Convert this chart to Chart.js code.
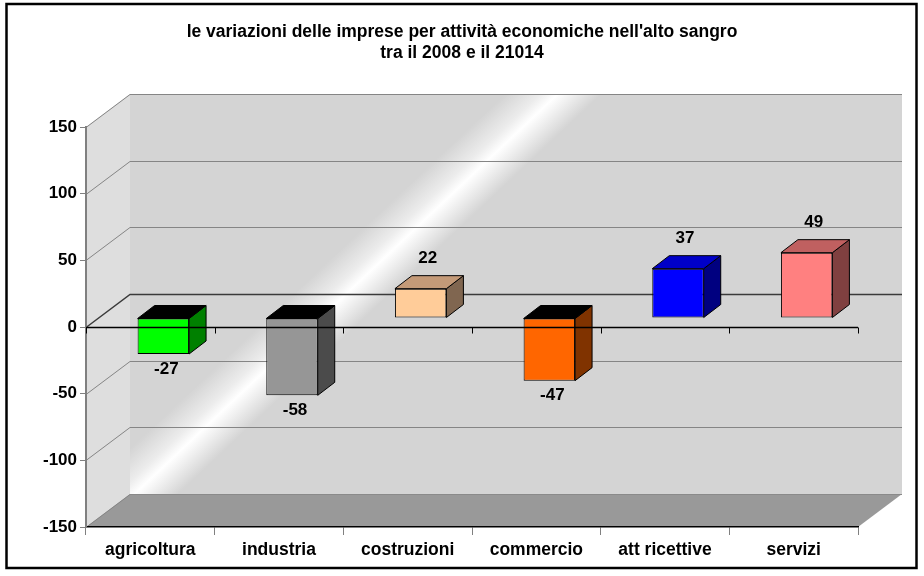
<!DOCTYPE html>
<html>
<head>
<meta charset="utf-8">
<script src="https://cdn.jsdelivr.net/npm/chart.js@4.4.1/dist/chart.umd.min.js"></script>
<style>
  body { margin: 0; background: #fff; }
  #wrap { width: 924px; height: 576px; }
</style>
</head>
<body>
<div id="wrap"><canvas id="chart"></canvas></div>
<script>
const categories = ["agricoltura", "industria", "costruzioni", "commercio", "att ricettive", "servizi"];
const values = [-27, -58, 22, -47, 37, 49];
const frontColors = ["#00ff00", "#969696", "#ffcc99", "#ff6600", "#0000ff", "#ff8080"];
const sideColors = ["#008000", "#4b4b4b", "#806650", "#803300", "#000080", "#804040"];
const topColors = ["#000000", "#000000", "#c49a78", "#000000", "#0000c8", "#c06060"];
const titleLines = ["le variazioni delle imprese per attività economiche nell'alto sangro", "tra il 2008 e il 21014"];
const yMin = -150;
const yMax = 150;
const yStep = 50;

const FONT = "'Liberation Sans', Arial, sans-serif";
// wall depth and bar offset/depth (3d look)
const DX = 44, DY = 33;
const OX = 13, OY = 9;
const BX = 17, BY = 13;

function poly(ctx, pts, fill, stroke) {
  ctx.beginPath();
  ctx.moveTo(pts[0][0], pts[0][1]);
  for (let i = 1; i < pts.length; i++) ctx.lineTo(pts[i][0], pts[i][1]);
  ctx.closePath();
  if (fill) { ctx.fillStyle = fill; ctx.fill(); }
  if (stroke) { ctx.strokeStyle = stroke; ctx.lineWidth = 1; ctx.stroke(); }
}

const walls = {
  id: "walls",
  afterLayout(chart) {
    // center the title on the whole canvas, not on the padded area
    if (chart.titleBlock) {
      chart.titleBlock.left = 0;
      chart.titleBlock.right = chart.width;
      chart.titleBlock.width = chart.width;
    }
  },
  beforeDraw(chart) {
    const { ctx, chartArea: a, scales } = chart;
    const y = scales.y;
    ctx.save();
    ctx.fillStyle = "#fff";
    ctx.fillRect(0, 0, chart.width, chart.height);
    ctx.strokeStyle = "#000";
    ctx.lineWidth = 2.5;
    ctx.strokeRect(6.5, 4, 910, 564);

    // side wall
    poly(ctx, [[a.left, a.top], [a.left + DX, a.top - DY], [a.left + DX, a.bottom - DY], [a.left, a.bottom]], "#dedede");
    // back wall with shine streak
    const g = ctx.createLinearGradient(277, 153, 483, 371);
    g.addColorStop(0, "#d4d4d4");
    g.addColorStop(0.38, "#d4d4d4");
    g.addColorStop(0.46, "#ececec");
    g.addColorStop(0.5, "#ffffff");
    g.addColorStop(0.54, "#eeeeee");
    g.addColorStop(0.6, "#d4d4d4");
    g.addColorStop(1, "#d4d4d4");
    ctx.fillStyle = g;
    ctx.fillRect(a.left + DX, a.top - DY, a.right - a.left, a.bottom - a.top);
    // floor
    poly(ctx, [[a.left, a.bottom], [a.right, a.bottom], [a.right + DX, a.bottom - DY], [a.left + DX, a.bottom - DY]], "#999999");
    ctx.strokeStyle = "#8a8a8a";
    ctx.lineWidth = 1;
    ctx.beginPath();
    ctx.moveTo(a.left + DX, a.bottom - DY + 0.5);
    ctx.lineTo(a.right + DX, a.bottom - DY + 0.5);
    ctx.stroke();

    // gridlines on back and side walls
    for (let v = yMin; v <= yMax; v += yStep) {
      const py = Math.round(y.getPixelForValue(v)) + 0.5;
      ctx.strokeStyle = v === 0 ? "#3a3a3a" : "#858585";
      ctx.lineWidth = v === 0 ? 1.5 : 1;
      ctx.beginPath();
      ctx.moveTo(a.left, py);
      ctx.lineTo(a.left + DX, py - DY);
      if (v !== yMin) ctx.lineTo(a.right + DX, py - DY);
      ctx.stroke();
    }
    ctx.restore();
  },
  beforeDatasetsDraw(chart) {
    chart.ctx.save();
    chart.ctx.translate(OX, -OY);
  },
  afterDatasetsDraw(chart) {
    const { ctx, chartArea: a, scales } = chart;
    ctx.restore();
    ctx.save();
    const meta = chart.getDatasetMeta(0);
    meta.data.forEach((bar, i) => {
      const p = bar.getProps(["x", "y", "base", "width"], true);
      const x0 = p.x - p.width / 2 + OX;
      const x1 = p.x + p.width / 2 + OX;
      const yt = Math.min(p.y, p.base) - OY;
      const yb = Math.max(p.y, p.base) - OY;
      poly(ctx, [[x1, yt], [x1 + BX, yt - BY], [x1 + BX, yb - BY], [x1, yb]], sideColors[i], "#000");
      poly(ctx, [[x0, yt], [x0 + BX, yt - BY], [x1 + BX, yt - BY], [x1, yt]], topColors[i], "#000");

      ctx.fillStyle = "#000";
      ctx.font = "bold 17px " + FONT;
      ctx.textAlign = "center";
      ctx.textBaseline = "middle";
      const cx = (x0 + x1) / 2;
      if (values[i] >= 0) ctx.fillText(String(values[i]), cx + 7, yt - 30);
      else ctx.fillText(String(values[i]), cx + 3, yb + 15);
    });

    // zero axis line on the front plane
    const y0 = Math.round(scales.y.getPixelForValue(0)) + 0.5;
    ctx.strokeStyle = "#000";
    ctx.lineWidth = 1.5;
    ctx.beginPath();
    ctx.moveTo(a.left, y0);
    ctx.lineTo(a.right, y0);
    ctx.stroke();
    ctx.lineWidth = 1;
    const step = (a.right - a.left) / categories.length;
    for (let k = 0; k <= categories.length; k++) {
      const px = Math.round(a.left + k * step) + 0.5;
      ctx.beginPath();
      ctx.moveTo(px, y0);
      ctx.lineTo(px, y0 + 6);
      ctx.stroke();
    }
    ctx.restore();
  }
};

new Chart(document.getElementById("chart"), {
  type: "bar",
  data: {
    labels: categories,
    datasets: [{
      data: values,
      backgroundColor: frontColors,
      borderColor: "#000",
      borderWidth: 1,
      borderSkipped: false,
      barPercentage: 0.4,
      categoryPercentage: 1,
      clip: false
    }]
  },
  options: {
    responsive: true,
    maintainAspectRatio: false,
    animation: false,
    layout: { padding: { top: 0, right: 66, bottom: 0, left: 0 } },
    plugins: {
      legend: { display: false },
      tooltip: { enabled: false },
      title: {
        display: true,
        text: titleLines,
        color: "#000",
        font: { family: FONT, size: 17.5, weight: "bold", lineHeight: 1.2 },
        padding: { top: 21.5, bottom: 63.5 }
      }
    },
    scales: {
      x: {
        afterFit(scale) { scale.height = 49; },
        grid: { drawOnChartArea: false, tickLength: 8, color: "#808080", offset: true },
        border: { display: true, color: "#000", width: 1.5 },
        ticks: { color: "#000", font: { family: FONT, size: 17.5, weight: "bold" }, padding: 5, maxRotation: 0 }
      },
      y: {
        min: yMin,
        max: yMax,
        afterFit(scale) { scale.width = 86; },
        grid: { drawOnChartArea: false, tickLength: 6, color: "#808080" },
        border: { display: true, color: "#808080", width: 2 },
        ticks: { stepSize: yStep, color: "#000", font: { family: FONT, size: 17, weight: "bold" }, padding: 3 }
      }
    }
  },
  plugins: [walls]
});
</script>
</body>
</html>
